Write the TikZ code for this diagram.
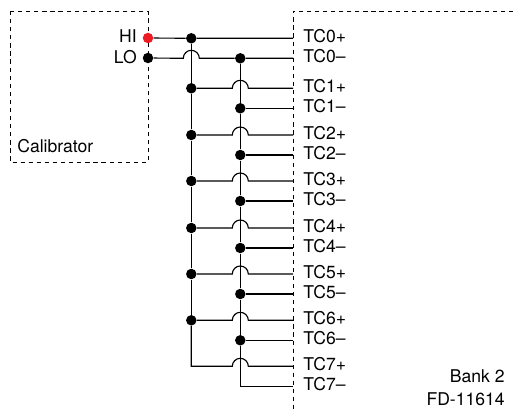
\documentclass[tikz,border=0pt]{standalone}
\usepackage{fontspec}
\setmainfont{TeX Gyre Heros}
\definecolor{hired}{HTML}{ED1C24}
\tikzset{%
	wire/.style={line width=0.65pt},
	frame/.style={line width=0.5pt,dash pattern=on 2.4pt off 2.2pt},
	dot/.style={circle,fill=black,inner sep=0pt,minimum size=0.21cm},
	txt/.style={inner sep=0pt,font=\fontsize{10}{12}\selectfont},
}
\newcommand{\hopr}{0.16cm}

\begin{document}
\begin{tikzpicture}[x=0.02cm,y=-0.02cm]
	\useasboundingbox (0,0) rectangle (513,411);
	
	%okvirja
	\draw[frame] (10,11) rectangle (148,162);
	\draw[frame] (513,11) -- (293,11) -- (293,411);
	
	%kalibrator
	\node[dot,fill=hired] (hi) at (148,38) {};
	\node[dot] (lo) at (148,58) {};
	\node[txt,anchor=east] (hilabel) at (137,36) {HI};
	\node[txt,anchor=east] (lolabel) at (137,57) {LO};
	\node[txt,anchor=west] (callabel) at (17,146) {Calibrator};
	
	%zbiralki
	\node[dot] (p0) at (191.3,38.3) {};
	\node[dot] (m0) at (240.3,58.3) {};
	\coordinate (tp0) at (293,38.3);
	\coordinate (tm0) at (293,58.3);
	\node[txt,anchor=west] (ltp0) at (303,36) {TC0+};
	\node[txt,anchor=west] (ltm0) at (303,56) {TC0--};
	\draw[wire] (hi) -- (p0) -- (tp0);
	\draw[wire] (lo) -- (183.3,58.3) arc (180:0:\hopr) -- (m0) -- (tm0);
	
	%kanali
	\foreach \i/\prev/\yp/\ym in {1/0/88.3/108.3,2/1/135/155,3/2/181/201,4/3/228/248,5/4/274/294,6/5/320.3/340.3}{
		\node[dot] (p\i) at (191.3,\yp) {};
		\node[dot] (m\i) at (240.3,\ym) {};
		\coordinate (tp\i) at (293,\yp);
		\coordinate (tm\i) at (293,\ym);
		\node[txt,anchor=west] (ltp\i) at (303,\yp-2) {TC\i+};
		\node[txt,anchor=west] (ltm\i) at (303,\ym-2) {TC\i--};
		\draw[wire] (p\prev) -- (p\i);
		\draw[wire] (m\prev) -- (m\i);
		\draw[wire] (p\i) -- (232.3,\yp) arc (180:0:\hopr) -- (tp\i);
		\draw[wire] (m\i) -- (tm\i);
	}
	
	%zadnji kanal
	\coordinate (p7) at (191.3,366.3);
	\coordinate (m7) at (240.3,386.3);
	\coordinate (tp7) at (293,366.3);
	\coordinate (tm7) at (293,386.3);
	\node[txt,anchor=west] (ltp7) at (303,364) {TC7+};
	\node[txt,anchor=west] (ltm7) at (303,384) {TC7--};
	\draw[wire] (p6) -- (p7) -- (232.3,366.3) arc (180:0:\hopr) -- (tp7);
	\draw[wire] (m6) -- (m7) -- (tm7);
	
	\node[txt,anchor=east] (bank) at (505,376) {Bank 2};
	\node[txt,anchor=east] (fd) at (505,399) {FD-11614};
\end{tikzpicture}
\end{document}
